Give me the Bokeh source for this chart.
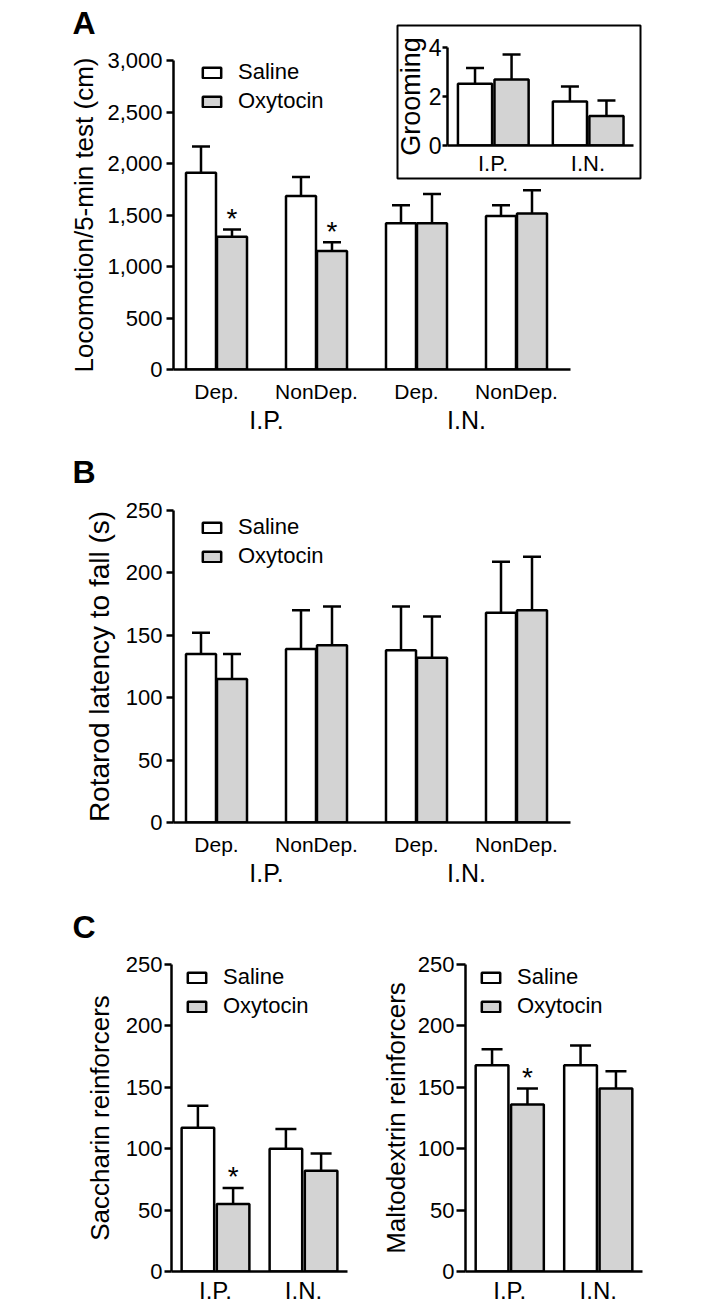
from bokeh.plotting import figure
from bokeh.models import (Range1d, FixedTicker, NumeralTickFormatter, LinearAxis, Whisker, TeeHead,
                          ColumnDataSource, Legend, LegendItem, Label, BoxAnnotation)
from bokeh.embed import file_html
from bokeh.resources import INLINE
from bokeh.core.properties import value

W, H = 698, 1298
M = 8
FONT = "Liberation Sans"
GRAY = "#d3d3d3"
LAYER = {"position": "absolute", "left": "8px", "top": "8px"}

# ---------------- data ----------------
series_names = ["Saline", "Oxytocin"]

loco_sub_labels = ["Dep.", "NonDep.", "Dep.", "NonDep."]
loco_group_labels = ["I.P.", "I.N."]
loco_saline = [1910, 1685, 1420, 1490]
loco_saline_sem = [255, 185, 175, 105]
loco_oxytocin = [1290, 1150, 1420, 1515]
loco_oxytocin_sem = [70, 85, 285, 225]
loco_sig = [True, True, False, False]
loco_ticks = [0, 500, 1000, 1500, 2000, 2500, 3000]

groom_labels = ["I.P.", "I.N."]
groom_saline = [2.52, 1.80]
groom_saline_sem = [0.64, 0.61]
groom_oxytocin = [2.69, 1.20]
groom_oxytocin_sem = [1.02, 0.64]
groom_ticks = [0, 2, 4]

rota_sub_labels = ["Dep.", "NonDep.", "Dep.", "NonDep."]
rota_group_labels = ["I.P.", "I.N."]
rota_saline = [135, 139, 138, 168]
rota_saline_sem = [17, 31, 35, 41]
rota_oxytocin = [115, 142, 132, 170]
rota_oxytocin_sem = [20, 31, 33, 43]
rota_ticks = [0, 50, 100, 150, 200, 250]

sacc_labels = ["I.P.", "I.N."]
sacc_saline = [117, 100]
sacc_saline_sem = [18, 16]
sacc_oxytocin = [55, 82]
sacc_oxytocin_sem = [13, 14]
sacc_sig = [True, False]

malt_labels = ["I.P.", "I.N."]
malt_saline = [168, 168]
malt_saline_sem = [13, 16]
malt_oxytocin = [136, 149]
malt_oxytocin_sem = [13, 14]
malt_sig = [True, False]
reinf_ticks = [0, 50, 100, 150, 200, 250]


# ---------------- helpers ----------------
def frame_fig(left, top, right, bottom, xr, yr):
    """Full-page transparent figure whose plot frame sits at the given page box."""
    p = figure(width=W, height=H, x_range=Range1d(*xr), y_range=Range1d(*yr),
               output_backend="svg", toolbar_location=None,
               min_border_left=left - M, min_border_top=top - M,
               min_border_right=W - (right - M), min_border_bottom=H - (bottom - M))
    p.background_fill_alpha = 0
    p.border_fill_alpha = 0
    p.outline_line_color = None
    p.grid.visible = False
    p.styles = LAYER
    return p


def style_axis(ax):
    ax.axis_line_color = "black"
    ax.axis_line_width = 2.5
    ax.major_tick_line_color = "black"
    ax.major_tick_line_width = 2.5
    ax.minor_tick_line_color = None
    ax.minor_tick_out = 0
    ax.minor_tick_in = 0
    ax.major_tick_in = 0
    ax.major_label_text_font = FONT
    ax.major_label_text_color = "black"
    ax.axis_label_text_font = FONT
    ax.axis_label_text_font_style = "normal"
    ax.axis_label_text_color = "black"


def setup_y(p, ticks, label, tick_out, tick_std, lab_std, lab_size, tick_size="22px", fmt=None):
    ax = p.left[0]
    style_axis(ax)
    ax.ticker = FixedTicker(ticks=ticks)
    if fmt is not None:
        ax.formatter = fmt
    ax.major_tick_out = tick_out
    ax.major_label_standoff = tick_std
    ax.major_label_text_font_size = tick_size
    ax.axis_label = label
    ax.axis_label_standoff = lab_std
    ax.axis_label_text_font_size = lab_size


def setup_x(ax, labels, ticks, std, size, line=True):
    style_axis(ax)
    ax.ticker = FixedTicker(ticks=ticks)
    ax.major_label_overrides = {t: l for t, l in zip(ticks, labels)}
    ax.major_tick_out = 0
    ax.major_tick_line_color = None
    ax.major_label_standoff = std
    ax.major_label_text_font_size = size
    if not line:
        ax.axis_line_color = None


def bars(p, xs, means, sems, width, color, cap):
    src = ColumnDataSource(dict(x=xs, top=means, upper=[m + s for m, s in zip(means, sems)]))
    r = p.vbar(x="x", top="top", bottom=0, width=width, source=src,
               fill_color=color, line_color="black", line_width=2.5)
    w = Whisker(source=src, base="x", lower="top", upper="upper", dimension="height",
                line_color="black", line_width=2.5,
                upper_head=TeeHead(size=cap, line_color="black", line_width=2.5), lower_head=None)
    p.add_layout(w)
    return r


def stars(p, xs, means, sems, sig, size="28px"):
    sx = [x for x, s in zip(xs, sig) if s]
    sy = [m + e for m, e, s in zip(means, sems, sig) if s]
    p.text(x=sx, y=sy, text=["*"] * len(sx), text_align="center", text_baseline="alphabetic",
           text_font=value(FONT), text_font_size=size, text_color="black", y_offset=-11)


def add_legend(p, renderers, x_off, top_off, frame_h, size="22px", item_h=25, spacing=3):
    leg_h = 2 * item_h + spacing
    leg = Legend(items=[LegendItem(label=value(n), renderers=[r]) for n, r in zip(series_names, renderers)],
                 location=(x_off, frame_h - top_off - leg_h),
                 glyph_width=23, glyph_height=13, label_standoff=15, label_height=item_h,
                 label_width=100, spacing=spacing, padding=0, margin=0, border_line_color=None,
                 background_fill_alpha=0, label_text_font=FONT, label_text_font_size=size,
                 label_text_color="black")
    p.add_layout(leg)


def shift(vals, d):
    return [v + d for v in vals]


# ---------------- page layer (panel letters, inset box); data units = page pixels ----------------
PH = H + M
page = figure(width=W, height=PH, x_range=Range1d(M, W + M), y_range=Range1d(PH, 0),
              x_axis_type=None, y_axis_type=None, min_border=0,
              output_backend="svg", toolbar_location=None)
page.outline_line_color = None
page.grid.visible = False
page.styles = {"position": "absolute", "left": "8px", "top": "0px"}
page.add_layout(BoxAnnotation(left=397, right=640, top=25, bottom=178,
                              fill_color="white", fill_alpha=1, line_color="black",
                              line_alpha=1, line_width=2))
for letter, ly in (("A", 22), ("B", 471), ("C", 926)):
    page.add_layout(Label(x=72, y=ly, text=letter, text_font=FONT, text_font_style="bold",
                          text_font_size="32px", text_color="black", text_baseline="alphabetic"))

# ---------------- Panel A : locomotion ----------------
pos4 = list(range(len(loco_sub_labels)))
pA = frame_fig(173, 60, 570, 369, (-0.43, 3.54), (0, 3000))
rA1 = bars(pA, shift(pos4, -0.155), loco_saline, loco_saline_sem, 0.30, "white", 18)
rA2 = bars(pA, shift(pos4, 0.155), loco_oxytocin, loco_oxytocin_sem, 0.30, GRAY, 18)
stars(pA, shift(pos4, 0.155), loco_oxytocin, loco_oxytocin_sem, loco_sig)
setup_y(pA, loco_ticks, "Locomotion/5-min test (cm)", 7, 4, 5, "26px",
        fmt=NumeralTickFormatter(format="0,0"))
setup_x(pA.below[0], loco_sub_labels, pos4, 10, "21px")
gA = LinearAxis()
setup_x(gA, loco_group_labels, [0.5, 2.5], 0, "25px", line=False)
pA.add_layout(gA, "below")
add_legend(pA, [rA1, rA2], 27, 1, 369 - 60)

# ---------------- Inset : grooming ----------------
pos2 = list(range(len(groom_labels)))
pI = frame_fig(447, 47, 633, 145, (-0.48, 1.48), (0, 4))
bars(pI, shift(pos2, -0.19), groom_saline, groom_saline_sem, 0.36, "white", 18)
bars(pI, shift(pos2, 0.195), groom_oxytocin, groom_oxytocin_sem, 0.36, GRAY, 18)
setup_y(pI, groom_ticks, "Grooming", 5, 1, 0, "27px", tick_size="23px")
setup_x(pI.below[0], groom_labels, pos2, 5, "22px")

# ---------------- Panel B : rotarod ----------------
pB = frame_fig(173, 510, 570, 822, (-0.43, 3.54), (0, 250))
rB1 = bars(pB, shift(pos4, -0.155), rota_saline, rota_saline_sem, 0.30, "white", 18)
rB2 = bars(pB, shift(pos4, 0.155), rota_oxytocin, rota_oxytocin_sem, 0.30, GRAY, 18)
setup_y(pB, rota_ticks, "Rotarod latency to fall (s)", 7, 4, 8, "28px")
setup_x(pB.below[0], rota_sub_labels, pos4, 10, "21px")
gB = LinearAxis()
setup_x(gB, rota_group_labels, [0.5, 2.5], 0, "25px", line=False)
pB.add_layout(gB, "below")
add_legend(pB, [rB1, rB2], 27, 6, 822 - 510)

# ---------------- Panel C left : saccharin ----------------
pC1 = frame_fig(171, 964, 347, 1275, (-0.5, 1.5), (0, 250))
rC1 = bars(pC1, shift(pos2, -0.2), sacc_saline, sacc_saline_sem, 0.37, "white", 21)
rC2 = bars(pC1, shift(pos2, 0.2), sacc_oxytocin, sacc_oxytocin_sem, 0.37, GRAY, 21)
stars(pC1, shift(pos2, 0.2), sacc_oxytocin, sacc_oxytocin_sem, sacc_sig)
setup_y(pC1, reinf_ticks, "Saccharin reinforcers", 7, 2, 8, "26px")
setup_x(pC1.below[0], sacc_labels, pos2, 5, "24px")
add_legend(pC1, [rC1, rC2], 14, 6, 1275 - 964)

# ---------------- Panel C right : maltodextrin ----------------
pC2 = frame_fig(465, 964, 642, 1275, (-0.5, 1.5), (0, 250))
rD1 = bars(pC2, shift(pos2, -0.2), malt_saline, malt_saline_sem, 0.37, "white", 21)
rD2 = bars(pC2, shift(pos2, 0.2), malt_oxytocin, malt_oxytocin_sem, 0.37, GRAY, 21)
stars(pC2, shift(pos2, 0.2), malt_oxytocin, malt_oxytocin_sem, malt_sig)
setup_y(pC2, reinf_ticks, "Maltodextrin reinforcers", 9, 2, 4, "26px")
setup_x(pC2.below[0], malt_labels, pos2, 5, "24px")
add_legend(pC2, [rD1, rD2], 14, 6, 1275 - 964)

open("out.html", "w").write(file_html([page, pA, pI, pB, pC1, pC2], INLINE))
